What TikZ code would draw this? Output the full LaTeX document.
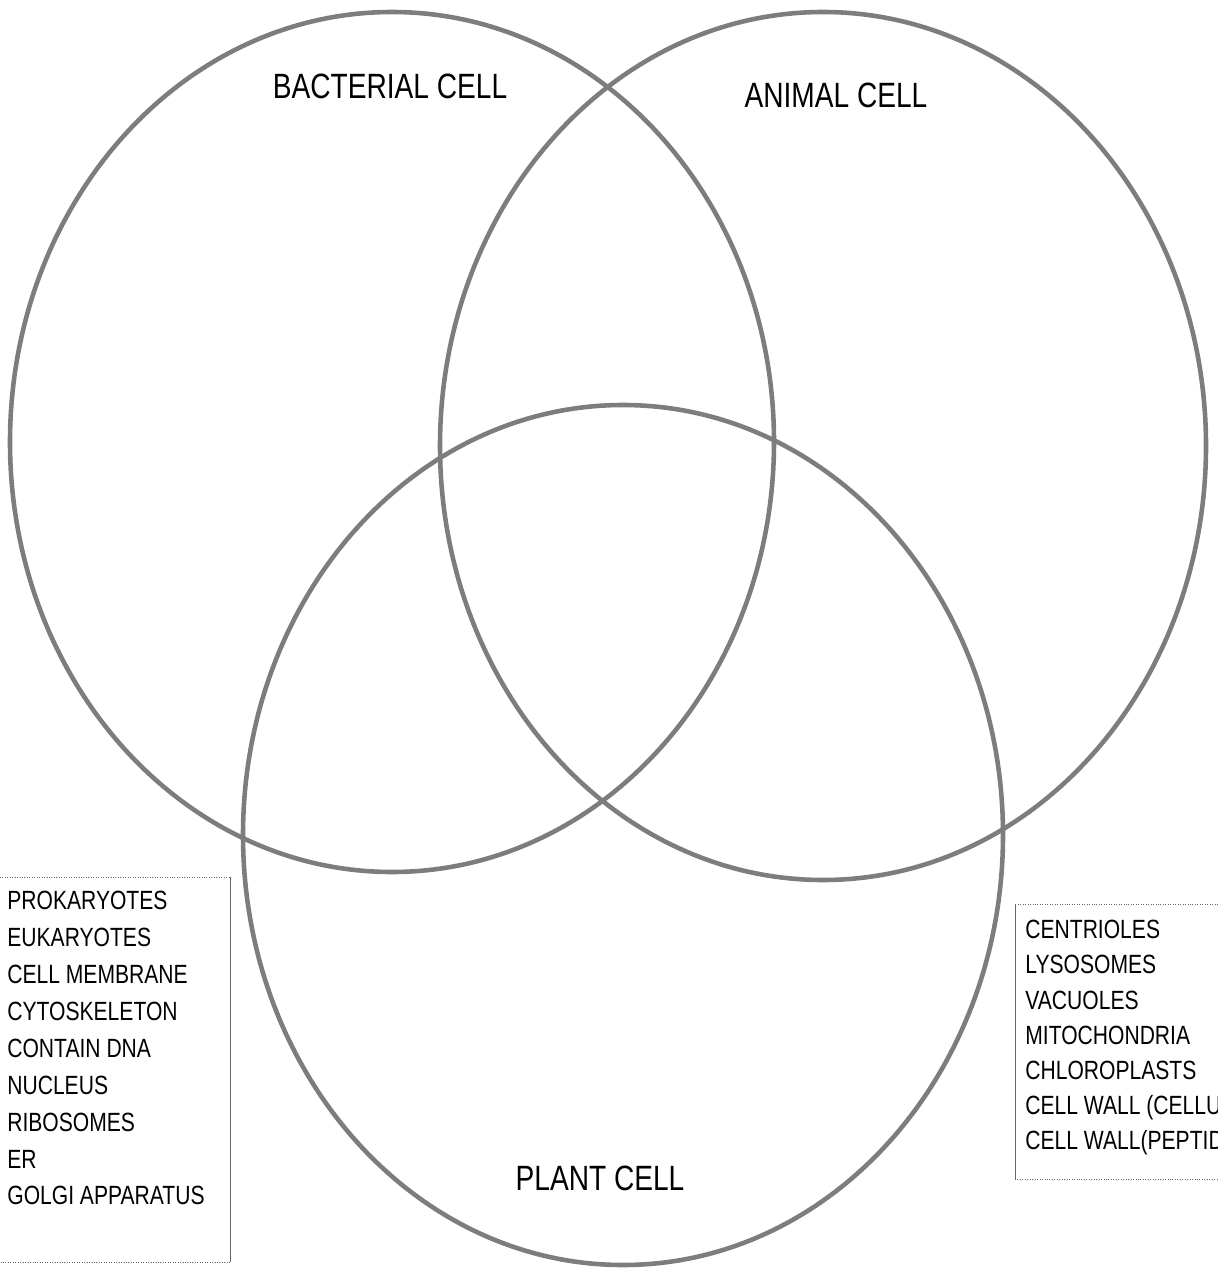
\documentclass[tikz,border=0pt]{standalone}
\usepackage{fontspec}
\setmainfont{Liberation Sans}[FakeStretch=0.8]
\usepackage{tikz}
\usetikzlibrary{positioning}
\definecolor{pencilgray}{RGB}{125,125,125}
\definecolor{boxgray}{RGB}{105,105,105}

\begin{document}
\begin{tikzpicture}[x=0.02cm, y=-0.02cm,
    cellring/.style={draw=pencilgray, line width=2.6pt},
    celltitle/.style={font=\fontsize{20}{24}\selectfont},
    listtext/.style={align=left, inner sep=0pt, anchor=north west}]
    \useasboundingbox (0,0) rectangle (1217,1280);

    % Cells
    \coordinate (bact) at (392,442);
    \coordinate (anim) at (823,446);
    \coordinate (plant) at (623,835);
    \draw[cellring] (bact) ellipse [x radius=382, y radius=430];
    \draw[cellring] (anim) ellipse [x radius=383, y radius=434];
    \draw[cellring] (plant) ellipse [x radius=380, y radius=430];

    % Titles
    \node[celltitle] (bacttitle) at (390,86) {BACTERIAL CELL};
    \node[celltitle] (animtitle) at (836,95) {ANIMAL CELL};
    \node[celltitle] (planttitle) at (600,1178) {PLANT CELL};

    % Left list
    \node[listtext, font=\fontsize{15}{21}\selectfont] (sharedlist) at (7,891)
        {PROKARYOTES\\EUKARYOTES\\CELL MEMBRANE\\CYTOSKELETON\\CONTAIN DNA\\NUCLEUS\\RIBOSOMES\\ER\\GOLGI APPARATUS};
    \draw[boxgray, densely dotted] (-10,877) -- (230,877);
    \draw[boxgray] (230,877) -- (230,1262);
    \draw[boxgray, densely dotted] (230,1262) -- (-10,1262);

    % Right list
    \node[listtext, font=\fontsize{15}{20}\selectfont] (partlist) at (1025,920)
        {CENTRIOLES\\LYSOSOMES\\VACUOLES\\MITOCHONDRIA\\CHLOROPLASTS\\CELL WALL (CELLU\\CELL WALL(PEPTID};
    \draw[boxgray, densely dotted] (1230,904) -- (1015,904);
    \draw[boxgray] (1015,904) -- (1015,1179);
    \draw[boxgray, densely dotted] (1015,1179) -- (1230,1179);
\end{tikzpicture}
\end{document}
